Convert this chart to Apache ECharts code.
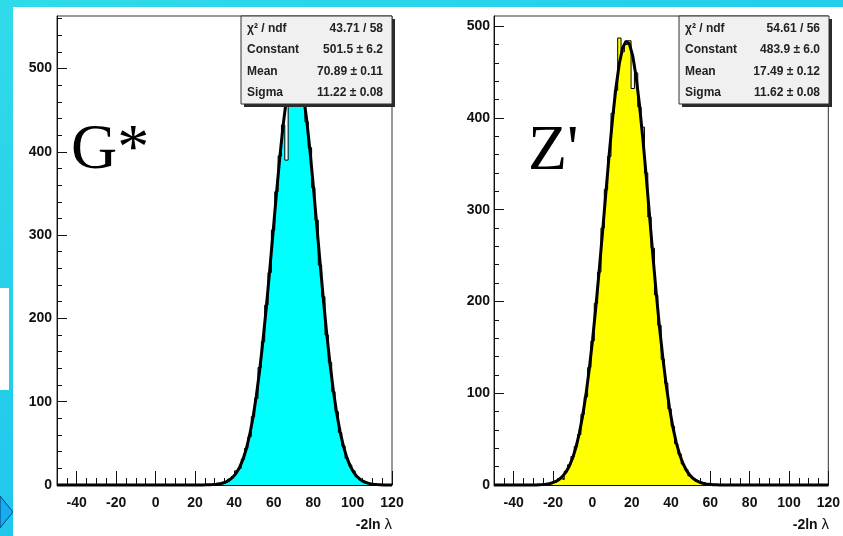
<!DOCTYPE html>
<html><head><meta charset="utf-8">
<script src="https://cdn.jsdelivr.net/npm/echarts@6/dist/echarts.min.js"></script>
<style>html,body{margin:0;padding:0;background:#fff}#c{width:843px;height:536px}</style>
</head><body><div id="c"></div>
<script>
// ---------- data ----------
const binLow = -50, binWidth = 1.7, nBins = 100, xMax = 120;
const xMajorTicks = [-40, -20, 0, 20, 40, 60, 80, 100, 120];
const xMinorTicks = [-50, -45, -40, -35, -30, -25, -20, -15, -10, -5, 0, 5, 10, 15, 20, 25, 30, 35, 40, 45, 50, 55, 60, 65, 70, 75, 80, 85, 90, 95, 100, 105, 110, 115, 120];
const yMajorTicks = [0, 100, 200, 300, 400, 500];
const yMinorTicksG = [20, 40, 60, 80, 120, 140, 160, 180, 220, 240, 260, 280, 320, 340, 360, 380, 420, 440, 460, 480, 520, 540, 560];
const yMinorTicksZ = [20, 40, 60, 80, 120, 140, 160, 180, 220, 240, 260, 280, 320, 340, 360, 380, 420, 440, 460, 480];
const yMaxG = 563, yMaxZ = 511;

// G* histogram: counts starting at bin gFirstBin (other bins empty)
const gFirstBin = 47;
const gCounts = [1, 2, 2, 4, 7, 10, 17, 20, 31, 44, 58, 82, 104, 141, 172, 216, 255, 306, 352, 395, 432, 390, 490, 497, 506, 488, 472, 436, 405, 357, 318, 264, 226, 180, 147, 112, 88, 63, 47, 32, 24, 17, 10, 7, 4, 3, 1, 1];
// G* fitted gaussian read at bin centres, starting at bin gFitFirst
const gFitFirst = 43;
const gFit = [0.1, 0.2, 0.3, 0.5, 0.8, 1.4, 2.4, 3.8, 6.1, 9.4, 14.3, 21.1, 30.6, 43.2, 59.8, 80.8, 106.8, 137.7, 173.8, 214.0, 257.9, 303.6, 349.4, 392.9, 431.8, 463.7, 486.8, 499.4, 500.6, 490.5, 469.7, 439.6, 402.0, 359.4, 313.9, 268.0, 223.6, 182.4, 145.3, 113.2, 86.2, 64.1, 46.6, 33.1, 23.0, 15.6, 10.3, 6.7, 4.2, 2.6, 1.6, 0.9, 0.5, 0.3, 0.1];

// Z' histogram
const zFirstBin = 14;
const zCounts = [1, 1, 1, 3, 4, 7, 6, 15, 22, 31, 42, 55, 77, 96, 128, 157, 198, 232, 280, 322, 358, 405, 430, 487, 472, 480, 484, 432, 449, 412, 390, 340, 292, 258, 207, 174, 137, 111, 83, 64, 45, 34, 23, 17, 10, 7, 5, 3, 2, 1, 1];
const zFitFirst = 13;
const zFit = [0.3, 0.5, 0.9, 1.5, 2.5, 3.9, 6.1, 9.4, 14.0, 20.4, 29.2, 40.9, 56.0, 75.1, 98.5, 126.4, 158.8, 195.3, 235.1, 277.2, 320.0, 362.2, 400.6, 433.6, 459.5, 476.5, 483.7, 480.6, 467.4, 445.0, 414.6, 378.1, 337.6, 294.6, 251.0, 210.1, 172.1, 138.8, 109.2, 84.0, 63.1, 46.5, 33.5, 23.6, 16.3, 11.0, 7.3, 4.7, 3.0, 1.9, 1.1, 0.7, 0.4, 0.2];

const statLabels = ['χ² / ndf', 'Constant', 'Mean', 'Sigma'];
const statsG = ['43.71 / 58', '501.5 ± 6.2', '70.89 ± 0.11', '11.22 ± 0.08'];
const statsZ = ['54.61 / 56', '483.9 ± 6.0', '17.49 ± 0.12', '11.62 ± 0.08'];
const xTitle = '-2ln';
const panelLabels = ['G*', "Z'"];

// ---------- build ----------
function histData(first, counts) {
  const d = [];
  for (let i = 0; i < nBins; i++) {
    const k = i - first;
    d.push([binLow + i * binWidth, (k >= 0 && k < counts.length) ? counts[k] : 0]);
  }
  d.push([xMax, 0]);
  return d;
}
function fitData(first, vals) {
  const d = [[binLow, 0]];
  for (let i = 0; i < nBins; i++) {
    const k = i - first;
    d.push([binLow + (i + 0.5) * binWidth, (k >= 0 && k < vals.length) ? vals[k] : 0]);
  }
  d.push([xMax, 0]);
  return d;
}

const FONT = '"Liberation Sans", Arial, sans-serif';
const grids = [
  { left: 57, top: 16, width: 335, height: 469 },
  { left: 494, top: 16, width: 335, height: 469 }
];
const labelStyle = { fontFamily: FONT, fontWeight: 'bold', fontSize: 14, color: '#111' };

function xAxes(gi) {
  return [
    { type: 'value', gridIndex: gi, min: binLow, max: xMax, position: 'bottom',
      axisLine: { show: true, onZero: false, lineStyle: { color: '#111', width: 1 } },
      axisTick: { show: true, inside: true, length: 14, customValues: xMajorTicks, lineStyle: { color: '#111', width: 1 } },
      axisLabel: Object.assign({ show: true, margin: 11, customValues: xMajorTicks }, labelStyle),
      splitLine: { show: false } },
    { type: 'value', gridIndex: gi, min: binLow, max: xMax, position: 'bottom', offset: 0,
      axisLine: { show: false, onZero: false },
      axisTick: { show: true, inside: true, length: 7, customValues: xMinorTicks, lineStyle: { color: '#111', width: 1 } },
      axisLabel: { show: false }, splitLine: { show: false } }
  ];
}
function yAxes(gi, ymax, minor, margin) {
  return [
    { type: 'value', gridIndex: gi, min: 0, max: ymax, position: 'left',
      axisLine: { show: true, onZero: false, lineStyle: { color: '#111', width: 1 } },
      axisTick: { show: true, inside: true, length: 10, customValues: yMajorTicks, lineStyle: { color: '#111', width: 1 } },
      axisLabel: Object.assign({ show: true, margin: margin, customValues: yMajorTicks }, labelStyle),
      splitLine: { show: false } },
    { type: 'value', gridIndex: gi, min: 0, max: ymax, position: 'left', offset: 0,
      axisLine: { show: false, onZero: false },
      axisTick: { show: true, inside: true, length: 5, customValues: minor, lineStyle: { color: '#111', width: 1 } },
      axisLabel: { show: false }, splitLine: { show: false } }
  ];
}

function statBox(x0, y0, w, h, vals) {
  const els = [
    { type: 'rect', z: 100, shape: { x: x0 + 3, y: y0 + 3, width: w, height: h }, style: { fill: '#2a2a2a' } },
    { type: 'rect', z: 101, shape: { x: x0, y: y0, width: w, height: h }, style: { fill: '#f0f0f0', stroke: '#333', lineWidth: 1 } }
  ];
  const rows = [28.5, 50, 71.5, 93];
  for (let r = 0; r < 4; r++) {
    els.push({ type: 'text', z: 102, x: x0 + 6, y: rows[r], style: { text: statLabels[r], fill: '#222', font: 'bold 12px ' + FONT, align: 'left', verticalAlign: 'middle' } });
    els.push({ type: 'text', z: 102, x: x0 + w - 9, y: rows[r], style: { text: vals[r], fill: '#222', font: 'bold 12px ' + FONT, align: 'right', verticalAlign: 'middle' } });
  }
  return els;
}
function axisTitle(xr) {
  return { type: 'text', z: 50, x: xr, y: 525, style: {
    text: '{a|' + xTitle + ' }{b|λ}', align: 'right', verticalAlign: 'middle',
    rich: { a: { fontFamily: FONT, fontWeight: 'bold', fontSize: 14, fill: '#111' },
            b: { fontFamily: FONT, fontWeight: 'normal', fontSize: 15, fill: '#111' } } } };
}

const graphic = [
  { type: 'rect', z: -10, shape: { x: 0, y: 0, width: 843, height: 536 },
    style: { fill: new echarts.graphic.LinearGradient(0, 0, 0.3, 1, [{ offset: 0, color: '#30dbe9' }, { offset: 1, color: '#1cc4ec' }]) } },
  { type: 'rect', z: -9, shape: { x: 13, y: 7, width: 830, height: 529 }, style: { fill: '#ffffff' } },
  { type: 'rect', z: -9, shape: { x: 0, y: 288, width: 9, height: 102 }, style: { fill: '#ffffff' } },
  { type: 'polygon', z: -8, shape: { points: [[0, 496], [13, 512], [0, 528]] }, style: { fill: '#14aef0', stroke: '#0b3f78', lineWidth: 1 } },
  { type: 'text', z: 50, x: 71, y: 151, style: { text: panelLabels[0], font: '64px "Liberation Serif", "Times New Roman", serif', fill: '#000', align: 'left', verticalAlign: 'middle' } },
  { type: 'text', z: 50, x: 528, y: 152, style: { text: panelLabels[1], font: '64px "Liberation Serif", "Times New Roman", serif', fill: '#000', align: 'left', verticalAlign: 'middle' } },
  axisTitle(392), axisTitle(829)
].concat(statBox(241, 16, 151, 88, statsG), statBox(679, 16, 150, 88, statsZ));

function histSeries(xi, yi, data, color) {
  return { type: 'line', xAxisIndex: xi, yAxisIndex: yi, data: data, step: 'end', symbol: 'none',
    lineStyle: { color: '#000', width: 1 }, areaStyle: { color: color, opacity: 1 }, z: 2, animation: false, silent: true };
}
function fitSeries(xi, yi, data) {
  return { type: 'line', xAxisIndex: xi, yAxisIndex: yi, data: data, symbol: 'none', clip: false,
    lineStyle: { color: '#000', width: 3 }, z: 3, animation: false, silent: true };
}

const chart = echarts.init(document.getElementById('c'), null, { renderer: 'canvas' });
chart.setOption({
  animation: false,
  backgroundColor: 'transparent',
  grid: grids.map(g => Object.assign({ show: true, backgroundColor: '#fff', borderColor: '#333', borderWidth: 1, containLabel: false }, g)),
  xAxis: xAxes(0).concat(xAxes(1)),
  yAxis: yAxes(0, yMaxG, yMinorTicksG, 5).concat(yAxes(1, yMaxZ, yMinorTicksZ, 4)),
  series: [
    histSeries(0, 0, histData(gFirstBin, gCounts), '#00ffff'),
    fitSeries(0, 0, fitData(gFitFirst, gFit)),
    histSeries(2, 2, histData(zFirstBin, zCounts), '#ffff00'),
    fitSeries(2, 2, fitData(zFitFirst, zFit))
  ],
  graphic: graphic
});
</script>
</body></html>
